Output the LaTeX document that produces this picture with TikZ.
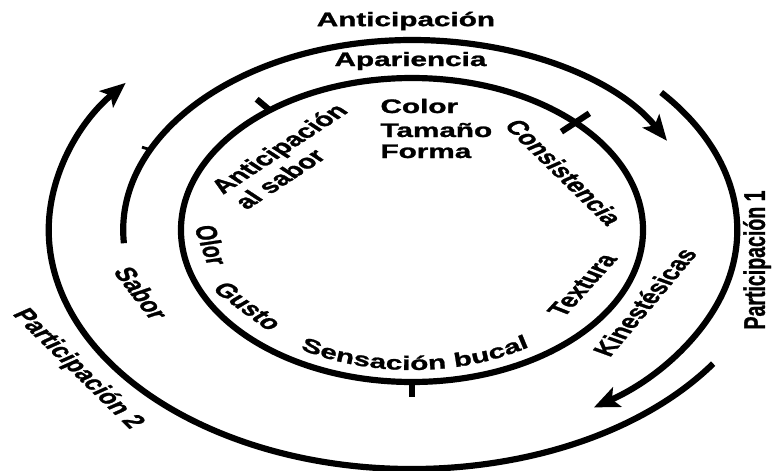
\documentclass[tikz,border=0pt]{standalone}
\usepackage{fontspec}
\setmainfont{Liberation Sans}[BoldFeatures={FakeBold=1.2}]
\newfontfamily\widefont{Liberation Sans}[FakeStretch=1.52,BoldFeatures={FakeBold=1.2}]
\usetikzlibrary{arrows.meta,decorations.text}

\tikzset{
  ring/.style={line width=4.4pt},
  flow/.style={ring,-{Stealth[length=18pt,width=15pt,inset=4pt]}},
  tickmark/.style={line width=4.4pt},
  lbl/.style={font=\fontsize{13.9}{15.6}\selectfont\bfseries,inner sep=0pt},
}

\begin{document}
\begin{tikzpicture}[x=0.025cm,y=0.025cm]
    \useasboundingbox (0,0) rectangle (777,470);

    % circles drawn round, the whole figure is stretched sideways
    \begin{scope}[shift={(412,240)},xscale=1.52,transform shape]
        \draw[ring] (0,0) circle[radius=152];

        \draw[tickmark] (128:152) -- (128:166);
        \draw[tickmark] (45:139) -- (45:165);
        \draw[tickmark] (270:152) -- (270:167);

        \draw[flow] (184:190) arc[start angle=184, end angle=28, radius=190];
        \draw[line width=2pt] (155:190) -- (155:196);
        \draw[flow] (40:214) arc[start angle=40, end angle=-56, radius=214];
        \draw[flow] (-34:239) arc[start angle=-34, end angle=-218, radius=239];

        \node[lbl] (antic) at (-4,209) {Anticipación};
        \node[lbl] (apar) at (-1,169) {Apariencia};

        \node[lbl,anchor=base west] (color) at (-21,117) {Color};
        \node[lbl,anchor=base west] (tam) at (-21,93) {Tamaño};
        \node[lbl,anchor=base west] (forma) at (-21,72) {Forma};

        \node[lbl,align=left,rotate=45] (antsab) at (-80,74) {Anticipación\\al sabor};
        \node[lbl,rotate=-56] (consis) at (100,58) {Consistencia};
        \node[lbl,rotate=-77] (olor) at (-132,-15) {Olor};
        \node[lbl,rotate=-48] (gusto) at (-108,-76) {Gusto};
        \node[lbl,rotate=59] (textura) at (112,-55) {Textura};
        \node[lbl,rotate=61] (kin) at (153,-72) {Kinestésicas};
        \node[lbl,rotate=-63] (sabor) at (-178,-63) {Sabor};
        \node[lbl,rotate=-56] (part2) at (-220,-139) {Participación 2};
        \node[lbl,rotate=90] (part1) at (227,-30) {Participación 1};
    \end{scope}

    \path[decorate,decoration={text along path,text align=center,
        text={|\widefont\fontsize{13.9}{15.6}\selectfont\bfseries|Sensación bucal}}]
        (412,240) ++(230:212.8 and 140) arc[start angle=230, end angle=312, x radius=212.8, y radius=140];
\end{tikzpicture}
\end{document}
